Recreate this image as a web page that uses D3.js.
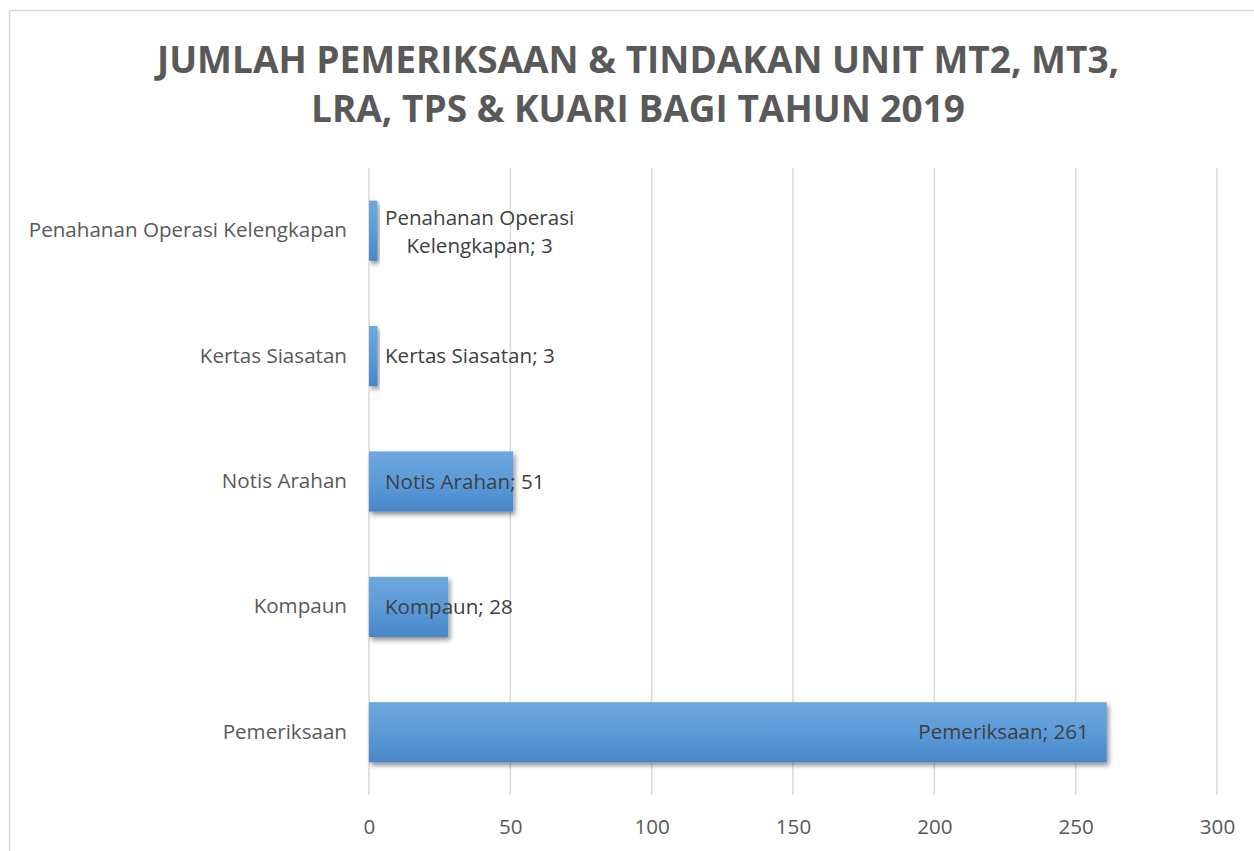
<!DOCTYPE html>
<html>
<head>
<meta charset="utf-8">
<script src="https://cdn.jsdelivr.net/npm/d3@7"></script>
<style>
  html, body { margin: 0; padding: 0; background: #fff; }
  svg { display: block; }
  text { font-family: "Open Sans", "Noto Sans", sans-serif; }
</style>
</head>
<body>
<svg id="chart" width="1254" height="851"></svg>
<script>
// Categories (top to bottom) and their counts for 2019
const categories = ["Penahanan Operasi Kelengkapan", "Kertas Siasatan", "Notis Arahan", "Kompaun", "Pemeriksaan"];
const values = [3, 3, 51, 28, 261];
const tickValues = [0, 50, 100, 150, 200, 250, 300];
const titleLines = ["JUMLAH PEMERIKSAAN & TINDAKAN UNIT MT2, MT3,", "LRA, TPS & KUARI BAGI TAHUN 2019"];

const plot = { left: 369, right: 1217, top: 168, bottom: 795 };
const labelSize = 20.6;

const svg = d3.select("#chart");

// Outer chart frame
svg.append("rect")
  .attr("x", 9.5).attr("y", 10.5)
  .attr("width", 1260).attr("height", 860)
  .attr("fill", "#fff").attr("stroke", "#d9d9d9").attr("stroke-width", 1.5);

const defs = svg.append("defs");
const grad = defs.append("linearGradient")
  .attr("id", "barFill").attr("x1", 0).attr("y1", 0).attr("x2", 0).attr("y2", 1);
grad.append("stop").attr("offset", "0%").attr("stop-color", "#6fa7dd");
grad.append("stop").attr("offset", "50%").attr("stop-color", "#5b9bd9");
grad.append("stop").attr("offset", "100%").attr("stop-color", "#4886c8");

const shadow = defs.append("filter").attr("id", "barShadow")
  .attr("x", "-10%").attr("y", "-20%").attr("width", "130%").attr("height", "160%");
shadow.append("feGaussianBlur").attr("in", "SourceAlpha").attr("stdDeviation", 2.5).attr("result", "b");
shadow.append("feOffset").attr("in", "b").attr("dx", 2).attr("dy", 3).attr("result", "o");
shadow.append("feComponentTransfer").attr("in", "o").attr("result", "s")
  .append("feFuncA").attr("type", "linear").attr("slope", 0.45);
const merge = shadow.append("feMerge");
merge.append("feMergeNode").attr("in", "s");
merge.append("feMergeNode").attr("in", "SourceGraphic");

const x = d3.scaleLinear().domain([0, 300]).range([plot.left, plot.right]);
const y = d3.scaleBand().domain(categories).range([plot.top, plot.bottom]).paddingInner(0.52).paddingOuter(0.26);

// Title
svg.append("g").selectAll("text").data(titleLines).join("text")
  .attr("x", 638).attr("y", (d, i) => 73 + i * 49)
  .attr("text-anchor", "middle")
  .attr("font-size", 37).attr("font-weight", 700)
  .attr("fill", "#595959")
  .text(d => d);

// Vertical gridlines
svg.append("g").selectAll("line").data(tickValues).join("line")
  .attr("x1", d => x(d)).attr("x2", d => x(d))
  .attr("y1", plot.top).attr("y2", plot.bottom)
  .attr("stroke", "#d9d9d9").attr("stroke-width", 1.5);

// X axis tick labels
const xAxis = d3.axisBottom(x).tickValues(tickValues).tickSize(0).tickPadding(0);
const gx = svg.append("g").attr("transform", `translate(0, ${plot.bottom})`).call(xAxis);
gx.select(".domain").remove();
gx.selectAll("text")
  .attr("dy", null).attr("y", 39)
  .attr("font-size", labelSize).attr("font-family", "'Open Sans', sans-serif")
  .attr("fill", "#595959");

// Category labels
const yAxis = d3.axisLeft(y).tickSize(0).tickPadding(22);
const gy = svg.append("g").attr("transform", `translate(${plot.left}, 0)`).call(yAxis);
gy.select(".domain").remove();
gy.selectAll("text")
  .attr("font-size", labelSize).attr("font-family", "'Open Sans', sans-serif")
  .attr("fill", "#595959");

// Bars
const rows = categories.map((c, i) => ({ cat: c, val: values[i] }));
svg.append("g").selectAll("rect").data(rows).join("rect")
  .attr("x", x(0)).attr("y", d => y(d.cat))
  .attr("width", d => x(d.val) - x(0)).attr("height", y.bandwidth())
  .attr("fill", "url(#barFill)")
  .attr("filter", "url(#barShadow)");

// Data labels "Category; value"
const labels = svg.append("g").attr("font-size", labelSize).attr("fill", "#404040");
rows.forEach(d => {
  const cy = y(d.cat) + y.bandwidth() / 2;
  if (d.cat === "Penahanan Operasi Kelengkapan") {
    // long label wraps onto two centred lines
    const t = labels.append("text").attr("text-anchor", "middle").attr("y", cy - 6);
    const l1 = t.append("tspan").attr("dy", 0).text("Penahanan Operasi");
    const l2 = t.append("tspan").attr("dy", 28).text(`Kelengkapan; ${d.val}`);
    const w1 = l1.node().getComputedTextLength();
    const cx = x(0) + 16 + w1 / 2;
    l1.attr("x", cx); l2.attr("x", cx);
    return;
  }
  const t = labels.append("text").attr("y", cy + 7).text(`${d.cat}; ${d.val}`);
  const w = t.node().getComputedTextLength();
  const barW = x(d.val) - x(0);
  if (w + 40 < barW) {
    t.attr("text-anchor", "end").attr("x", x(d.val) - 18);
  } else {
    t.attr("text-anchor", "start").attr("x", x(0) + 16);
  }
});
</script>
</body>
</html>
